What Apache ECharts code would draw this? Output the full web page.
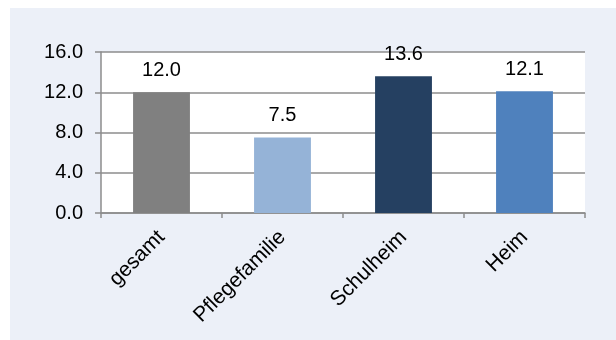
<!DOCTYPE html>
<html>
<head>
<meta charset="utf-8">
<script src="https://cdn.jsdelivr.net/npm/echarts@6/dist/echarts.min.js"></script>
<style>
  html, body { margin: 0; padding: 0; background: #ffffff; }
  #chart { width: 616px; height: 340px; }
</style>
</head>
<body>
<div id="chart"></div>
<script>
// Kategorien und Werte
const categories = ['gesamt', 'Pflegefamilie', 'Schulheim', 'Heim'];
const values = [12.0, 7.5, 13.6, 12.1];
const barColors = ['#808080', '#95B3D7', '#254061', '#4F81BD'];
const yTicks = { min: 0, max: 16, interval: 4 };

const chart = echarts.init(document.getElementById('chart'), null, { renderer: 'canvas' });
const font = '"Liberation Sans", Arial, sans-serif';

chart.setOption({
  animation: false,
  graphic: [{
    type: 'rect',
    z: -100,
    silent: true,
    shape: { x: 10, y: 8, width: 606, height: 332 },
    style: { fill: '#ECF0F8' }
  }],
  grid: {
    left: 101, right: 31, top: 52, bottom: 127,
    show: true, backgroundColor: '#ffffff', borderWidth: 0
  },
  xAxis: {
    type: 'category',
    data: categories,
    axisLine: { show: true, lineStyle: { color: '#8c8c8c', width: 1.5 } },
    axisTick: { show: true, length: 5, alignWithLabel: false, lineStyle: { color: '#8c8c8c', width: 1.5 } },
    axisLabel: {
      rotate: 45, fontSize: 21, color: '#000000', fontFamily: font, margin: 21
    }
  },
  yAxis: {
    type: 'value',
    min: yTicks.min, max: yTicks.max, interval: yTicks.interval,
    axisLine: { show: true, lineStyle: { color: '#8c8c8c', width: 1.5 } },
    axisTick: { show: true, length: 6, lineStyle: { color: '#8c8c8c', width: 1.5 } },
    splitLine: { show: true, lineStyle: { color: '#8c8c8c', width: 1.5 } },
    axisLabel: {
      fontSize: 20, color: '#000000', fontFamily: font, margin: 18,
      formatter: v => v.toFixed(1)
    }
  },
  series: [{
    type: 'bar',
    barWidth: '47%',
    data: values.map((v, i) => ({ value: v, itemStyle: { color: barColors[i] } })),
    label: {
      show: true, position: 'top', distance: 12,
      fontSize: 20, color: '#000000', fontFamily: font,
      formatter: p => p.value.toFixed(1)
    }
  }]
});
</script>
</body>
</html>
